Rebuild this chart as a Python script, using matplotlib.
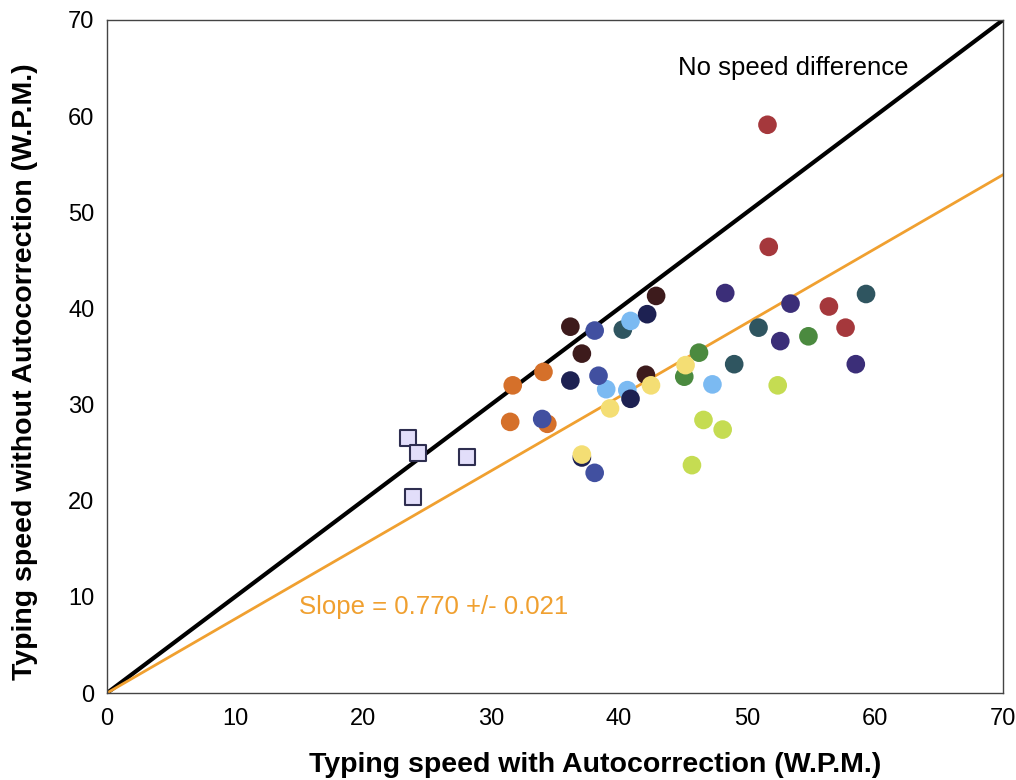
import matplotlib
matplotlib.use("Agg")
import matplotlib.pyplot as plt
import numpy as np

plt.rcParams['font.family'] = ['Liberation Sans', 'DejaVu Sans']

# participants' typing speeds (with autocorrection, without autocorrection), grouped by marker colour
groups = [
    ("#a5383c", [51.6, 51.7, 56.4, 57.7], [59.1, 46.4, 40.2, 38.0]),
    ("#3b2e78", [48.3, 53.4, 52.6, 58.5], [41.6, 40.5, 36.6, 34.2]),
    ("#2f5560", [59.3, 50.9, 49.0, 40.3], [41.5, 38.0, 34.2, 37.8]),
    ("#4b8a3f", [54.8, 46.25, 45.1], [37.1, 35.4, 32.9]),
    ("#7bbaf2", [47.3, 40.9, 39.0, 40.65], [32.1, 38.7, 31.6, 31.5]),
    ("#c5dc52", [52.4, 46.6, 48.1, 45.7], [32.0, 28.4, 27.4, 23.7]),
    ("#3d1b1c", [42.9, 36.2, 37.1, 42.1], [41.3, 38.1, 35.3, 33.1]),
    ("#1d2152", [42.2, 36.2, 40.9, 37.1], [39.4, 32.5, 30.6, 24.5]),
    ("#d5702a", [34.1, 31.7, 31.5, 34.4], [33.4, 32.0, 28.2, 28.0]),
    ("#4150a0", [38.1, 38.4, 34.0, 38.1], [37.7, 33.0, 28.5, 22.9]),
    ("#f4de74", [45.2, 42.5, 39.3, 37.1], [34.1, 32.0, 29.6, 24.8]),
]
sq_x = [23.5, 24.3, 28.15, 23.9]
sq_y = [26.5, 25.0, 24.5, 20.4]

slope = 0.770
ticks = [0, 10, 20, 30, 40, 50, 60, 70]

fig = plt.figure(figsize=(10.16, 7.80), dpi=100)
ax = fig.add_axes([0.1053, 0.1115, 0.8819, 0.8629])

lims = np.array([0, 70])
ax.plot(lims, lims, color="black", lw=3, zorder=2)
ax.plot(lims, slope * lims, color="#f0a030", lw=2, zorder=2)

for col, xs, ys in groups:
    ax.scatter(xs, ys, s=180, color=col, edgecolors="none", zorder=3)
ax.scatter(sq_x, sq_y, s=135, marker="s", color="#e2defa", edgecolors="#2e2e50", linewidths=1.5, zorder=3)

ax.text(44.6, 65.0, "No speed difference", fontsize=18.5, color="black", va="center")
ax.text(15.0, 8.9, "Slope = 0.770 +/- 0.021", fontsize=18.5, color="#f0a030", va="center")

ax.set_xlim(0, 70)
ax.set_ylim(0, 70)
ax.set_xticks(ticks)
ax.set_yticks(ticks)
ax.tick_params(length=0, labelsize=17)
ax.tick_params(axis="x", pad=11)
ax.tick_params(axis="y", pad=9)
for sp in ax.spines.values():
    sp.set_color("#444444")
    sp.set_linewidth(1.0)

ax.set_xlabel("Typing speed with Autocorrection (W.P.M.)", fontsize=20.5, fontweight="bold")
ax.set_ylabel("Typing speed without Autocorrection (W.P.M.)", fontsize=20.5, fontweight="bold")
ax.xaxis.set_label_coords(0.545, -0.107)
ax.yaxis.set_label_coords(-0.0915, 0.477)
ax.xaxis.label.set_va("center")
ax.yaxis.label.set_va("center")

fig.savefig("out.png", dpi=100)
